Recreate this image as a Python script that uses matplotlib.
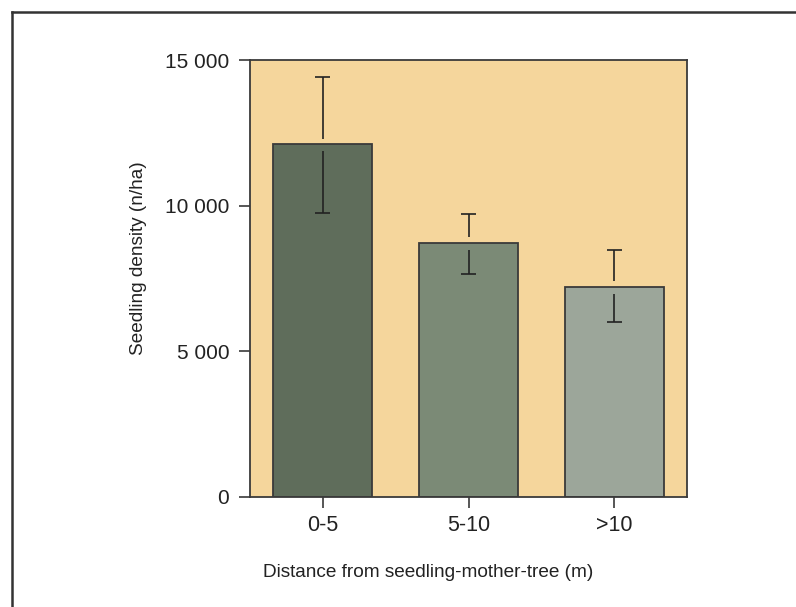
import matplotlib.pyplot as plt
from matplotlib.lines import Line2D

# Данні
categories = ["0-5", "5-10", ">10"]
density = [12100, 8730, 7220]
err_low = [2340, 1070, 1210]
err_high = [2330, 970, 1270]
bar_colors = ["#5f6d5b", "#7b8a76", "#9ca69a"]
y_ticks = [0, 5000, 10000, 15000]
y_tick_labels = ["0", "5 000", "10 000", "15 000"]

plt.rcParams['font.family'] = ['Liberation Sans', 'DejaVu Sans']
text_color = "#222222"
line_color = "#3a3a3a"

fig = plt.figure(figsize=(7.96, 6.07), dpi=100)
ax = fig.add_axes([250 / 796, 1 - 497 / 607, 437 / 796, 437 / 607])
ax.set_facecolor("#f5d69c")

x = list(range(len(categories)))
ax.bar(x, density, width=0.68, color=bar_colors, edgecolor=line_color,
       linewidth=1.3, zorder=2)

# Планки похибок з розривом біля верху стовпчика
gap = 190
for xi, d, lo, hi in zip(x, density, err_low, err_high):
    ax.vlines(xi, d + gap, d + hi, color="#222222", linewidth=1.2, zorder=3)
    ax.vlines(xi, d - lo, d - gap - 50, color="#222222", linewidth=1.2, zorder=3)
    ax.hlines([d + hi, d - lo], xi - 0.052, xi + 0.052, color="#222222",
              linewidth=1.2, zorder=3)

ax.set_xlim(-0.5, 2.5)
ax.set_ylim(0, 15000)
ax.set_xticks(x)
ax.set_xticklabels(categories)
ax.set_yticks(y_ticks)
ax.set_yticklabels(y_tick_labels)
ax.tick_params(axis="both", direction="out", length=8, width=1.2,
               color=line_color, labelcolor=text_color)
ax.tick_params(axis="y", labelsize=15, pad=7)
ax.tick_params(axis="x", labelsize=15.5, pad=5)
for spine in ax.spines.values():
    spine.set_color(line_color)
    spine.set_linewidth(1.3)

ax.set_xlabel("Distance from seedling-mother-tree (m)", fontsize=13.7,
              color=text_color, va="center", ha="center")
ax.xaxis.set_label_coords(0.407, -0.172)
ax.set_ylabel("Seedling density (n/ha)", fontsize=13.7, color=text_color,
              va="center", ha="center")
ax.yaxis.set_label_coords(-0.256, 0.547)

# Рамка навколо рисунка (ліва та верхня сторони видно)
frame_x = 12 / 796
frame_y = 1 - 12 / 607
fig.add_artist(Line2D([frame_x, frame_x], [0, frame_y], transform=fig.transFigure,
                      color="#333333", linewidth=1.8))
fig.add_artist(Line2D([frame_x, 1], [frame_y, frame_y], transform=fig.transFigure,
                      color="#333333", linewidth=1.8))

fig.savefig("out.png", dpi=100)
